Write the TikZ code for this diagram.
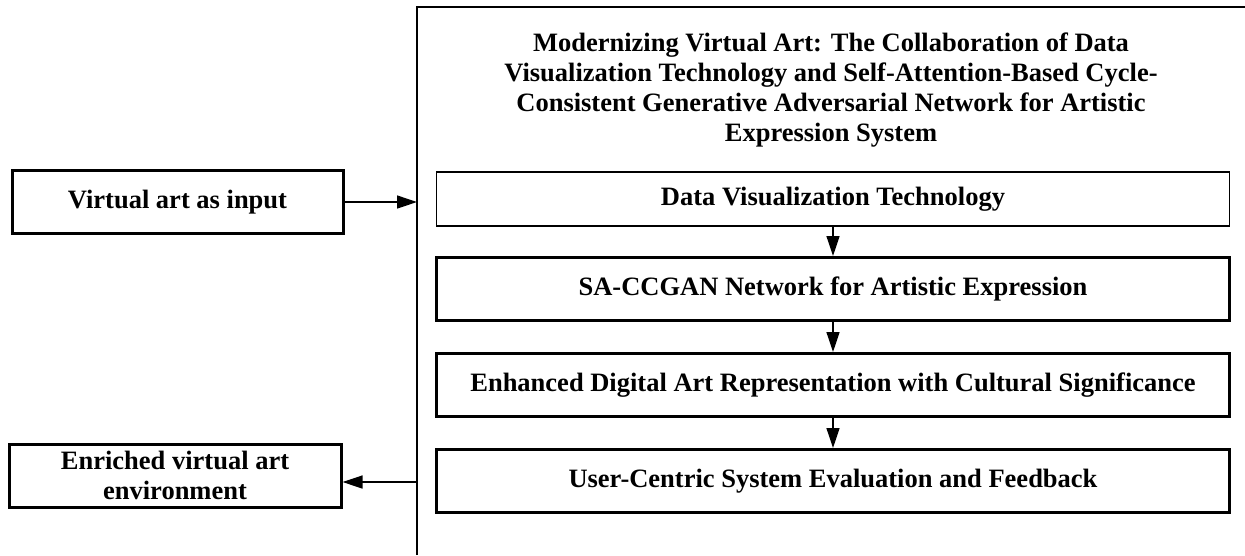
\documentclass[tikz,border=0pt]{standalone}
\usepackage{fontspec}
\setmainfont{Liberation Serif}
\usetikzlibrary{arrows.meta}
\begin{document}
\begin{tikzpicture}[x=1pt,y=-1pt,
  every node/.style={font=\fontsize{26.5}{30}\selectfont\bfseries, align=center, inner sep=0pt},
  thinbox/.style={draw, line width=1.5pt, minimum width=793pt},
  thickbox/.style={draw, line width=3pt, minimum width=793pt, minimum height=63pt},
  sidebox/.style={draw, line width=3pt, minimum height=63pt},
  arr/.style={line width=1.3pt, -{Triangle[length=20pt,width=13pt]}},
  frame/.style={line width=1.3pt}]
\useasboundingbox (0,0) rectangle (1245,555);
% container
\coordinate (cbl) at (417,555);
\coordinate (ctl) at (417,7);
\coordinate (ctr) at (1245,7);
\draw[frame] (cbl) -- (ctl) -- (ctr);
\node (title) at (831,90) {Modernizing Virtual Art: The Collaboration of Data\\Visualization Technology and Self-Attention-Based Cycle-\\Consistent Generative Adversarial Network for Artistic\\Expression System};
\node[thinbox, minimum height=54pt] (dvt) at (833,199) {Data Visualization Technology};
\node[thickbox] (sa) at (833,289) {SA-CCGAN Network for Artistic Expression};
\node[thickbox] (enh) at (833,385) {Enhanced Digital Art Representation with Cultural Significance};
\node[thickbox] (user) at (833,481) {User-Centric System Evaluation and Feedback};
\node[sidebox, minimum width=331pt] (input) at (177.5,202) {Virtual art as input};
\node[sidebox, minimum width=332pt] (out) at (175,475.5) {Enriched virtual art\\environment};
\coordinate (inend) at (417,202);
\coordinate (outstart) at (417,482);
\draw[arr] (input.east) -- (inend);
\draw[arr] (outstart) -- (out.east |- outstart);
\draw[arr] (dvt) -- (sa);
\draw[arr] (sa) -- (enh);
\draw[arr] (enh) -- (user);
\end{tikzpicture}
\end{document}
